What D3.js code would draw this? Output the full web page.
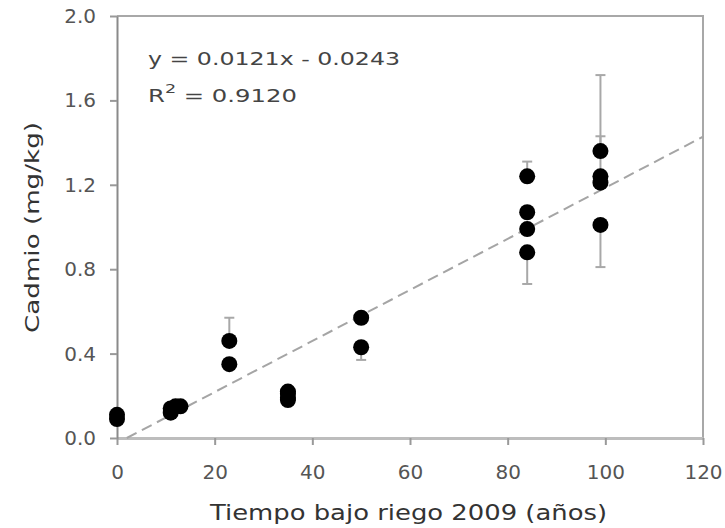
<!DOCTYPE html>
<html>
<head>
<meta charset="utf-8">
<script src="https://cdn.jsdelivr.net/npm/d3@7"></script>
<style>
  body { margin: 0; background: #fff; }
  text { font-family: "DejaVu Sans", Verdana, sans-serif; }
</style>
</head>
<body>
<div id="svg"></div>
<script>
var width = 725,
    height = 528;

var margin = { top: 16, right: 22, bottom: 90, left: 117 };

// points: years under irrigation, cadmium (mg/kg)
var pointX = [0, 0, 11, 11, 12, 13, 23, 23, 35, 35, 35, 35, 50, 50, 84, 84, 84, 84, 99, 99, 99, 99];
var pointY = [0.09, 0.11, 0.12, 0.14, 0.15, 0.15, 0.46, 0.35, 0.18, 0.19, 0.21, 0.22, 0.57, 0.43, 1.24, 1.07, 0.99, 0.88, 1.36, 1.24, 1.21, 1.01];

// error bars: x, low, high
var errX = [23, 50, 84, 84, 99, 99, 99];
var errLow = [0.46, 0.37, 1.24, 0.73, 1.36, 1.24, 0.81];
var errHigh = [0.57, 0.43, 1.31, 0.88, 1.72, 1.43, 1.01];

var xTicks = [0, 20, 40, 60, 80, 100, 120];
var yTicks = [0, 0.4, 0.8, 1.2, 1.6, 2.0];

var slope = 0.0121,
    intercept = -0.0243;

var svg = d3.select("#svg").append("svg")
    .attr("width", width)
    .attr("height", height);

var x = d3.scaleLinear()
    .domain([0, 120])
    .range([margin.left, width - margin.right]);

var y = d3.scaleLinear()
    .domain([0, 2])
    .range([height - margin.bottom, margin.top]);

// frame top and right
svg.append("path")
    .attr("d", "M" + x(0) + "," + y(2) + "H" + x(120) + "V" + y(0))
    .attr("fill", "none")
    .attr("stroke", "#a8a8a8")
    .attr("stroke-width", 2);

// x axis
var xAxis = svg.append("g")
    .attr("transform", "translate(0," + y(0) + ")")
    .call(d3.axisBottom(x).tickValues(xTicks).tickSize(7).tickPadding(20).tickSizeOuter(0));
xAxis.select(".domain").attr("stroke", "#bdbdbd").attr("stroke-width", 3);
xAxis.selectAll(".tick line").attr("stroke", "#999").attr("stroke-width", 2);
xAxis.selectAll(".tick text")
    .attr("fill", "#555")
    .style("font-size", "20px");

// y axis
var yAxis = svg.append("g")
    .attr("transform", "translate(" + x(0) + ",0)")
    .call(d3.axisLeft(y).tickValues(yTicks).tickFormat(d3.format(".1f")).tickSize(7).tickPadding(14).tickSizeOuter(0));
yAxis.select(".domain").attr("stroke", "#8a8a8a").attr("stroke-width", 2);
yAxis.selectAll(".tick line").attr("stroke", "#999").attr("stroke-width", 2);
yAxis.selectAll(".tick text")
    .attr("fill", "#555")
    .style("font-size", "20px");

// trend line, clipped at y = 0
var x0 = -intercept / slope;
svg.append("line")
    .attr("x1", x(x0))
    .attr("y1", y(0))
    .attr("x2", x(120))
    .attr("y2", y(slope * 120 + intercept))
    .attr("stroke", "#a5a5a5")
    .attr("stroke-width", 2)
    .attr("stroke-dasharray", "11,6");

// error bars
var errData = errX.map(function (d, i) { return { x: d, lo: errLow[i], hi: errHigh[i] }; });
var eb = svg.append("g")
    .attr("stroke", "#a8a8a8")
    .attr("stroke-width", 2)
    .selectAll("g")
    .data(errData)
    .enter().append("g");
eb.append("line")
    .attr("x1", d => x(d.x)).attr("x2", d => x(d.x))
    .attr("y1", d => y(d.lo)).attr("y2", d => y(d.hi));
eb.append("line")
    .attr("x1", d => x(d.x) - 5).attr("x2", d => x(d.x) + 5)
    .attr("y1", d => y(d.lo)).attr("y2", d => y(d.lo));
eb.append("line")
    .attr("x1", d => x(d.x) - 5).attr("x2", d => x(d.x) + 5)
    .attr("y1", d => y(d.hi)).attr("y2", d => y(d.hi));

// points
svg.append("g")
    .selectAll("circle")
    .data(pointX.map(function (d, i) { return [d, pointY[i]]; }))
    .enter().append("circle")
    .attr("cx", d => x(d[0]))
    .attr("cy", d => y(d[1]))
    .attr("r", 8)
    .attr("fill", "#000");

// equation
svg.append("text")
    .attr("x", 148)
    .attr("y", 65)
    .attr("fill", "#444")
    .style("font-size", "18px")
    .attr("textLength", 252)
    .attr("lengthAdjust", "spacingAndGlyphs")
    .text("y = 0.0121x - 0.0243");

var r2 = svg.append("text")
    .attr("transform", "translate(148,102) scale(1.35,1)")
    .attr("fill", "#444")
    .style("font-size", "18px");
r2.append("tspan").text("R");
r2.append("tspan").attr("dy", -9).style("font-size", "13px").text("2");
r2.append("tspan").attr("dy", 9).text(" = 0.9120");

// axis titles
svg.append("text")
    .attr("x", 210)
    .attr("y", 520)
    .attr("fill", "#333")
    .style("font-size", "22px")
    .attr("textLength", 397)
    .attr("lengthAdjust", "spacingAndGlyphs")
    .text("Tiempo bajo riego 2009 (años)");

svg.append("text")
    .attr("transform", "translate(39,333) rotate(-90)")
    .attr("fill", "#333")
    .style("font-size", "20px")
    .attr("textLength", 211)
    .attr("lengthAdjust", "spacingAndGlyphs")
    .text("Cadmio (mg/kg)");
</script>
</body>
</html>
